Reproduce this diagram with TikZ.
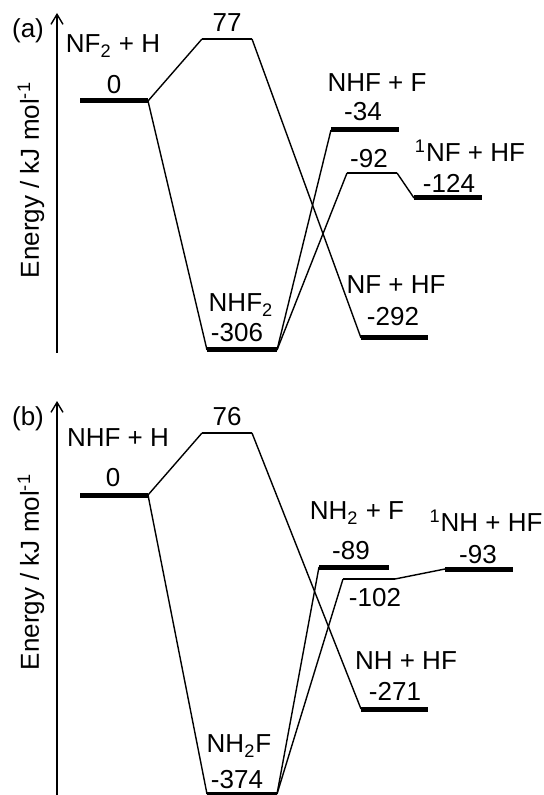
\documentclass[tikz,border=0pt]{standalone}
\usepackage{fontspec}
\setmainfont{Liberation Sans}
\usetikzlibrary{arrows.meta}

\begin{document}
\begin{tikzpicture}[x=0.5pt, y=-0.5pt,
  elevel/.style={line width=2.5pt},
  conn/.style={line width=0.7pt},
  lbl/.style={inner sep=0pt, font=\fontsize{13}{15}\selectfont},
  axis/.style={line width=0.7pt, -{Straight Barb[length=5pt, width=6pt]}}]
\useasboundingbox (0,0) rectangle (543,795);

% (a) NF2 + H
\node[lbl] (atag) at (28,31) {(a)};
\coordinate (abot) at (57,353);
\coordinate (atop) at (57,13);
\draw[axis] (abot) -- (atop);
\node[lbl, rotate=90] (aylab) at (31,180) {Energy / kJ mol\textsuperscript{-1}};

% levels
\coordinate (a0l) at (80,101);   \coordinate (a0r) at (148,101);
\coordinate (atsl) at (202,39);  \coordinate (atsr) at (252,39);
\coordinate (aintl) at (207,350); \coordinate (aintr) at (277,350);
\coordinate (afl) at (331,130);  \coordinate (afr) at (399,130);
\coordinate (abl) at (347,173);  \coordinate (abr) at (397,173);
\coordinate (asl) at (414,198);  \coordinate (asr) at (482,198);
\coordinate (atl) at (361,338);  \coordinate (atr) at (428,338);
\draw[elevel] (a0l) -- (a0r);
\draw[conn] (atsl) -- (atsr);
\draw[elevel] (aintl) -- (aintr);
\draw[elevel] (afl) -- (afr);
\draw[conn] (abl) -- (abr);
\draw[elevel] (asl) -- (asr);
\draw[elevel] (atl) -- (atr);

% connections
\draw[conn] (a0r) -- (atsl);
\draw[conn] (atsr) -- (atl);
\draw[conn] (a0r) -- (aintl);
\draw[conn] (aintr) -- (afl);
\draw[conn] (aintr) -- (abl);
\draw[conn] (abr) -- (asl);

% labels
\node[lbl] (areac) at (113,46) {NF\textsubscript{2} + H};
\node[lbl] (a0v) at (114,85) {0};
\node[lbl] (atsv) at (227,23) {77};
\node[lbl] (aint) at (241,305) {NHF\textsubscript{2}};
\node[lbl] (aintv) at (237,333) {-306};
\node[lbl] (af) at (377,83) {NHF + F};
\node[lbl] (afv) at (363,112) {-34};
\node[lbl] (abv) at (369,159) {-92};
\node[lbl] (as) at (470,151) {\textsuperscript{1}NF + HF};
\node[lbl] (asv) at (449,183) {-124};
\node[lbl] (at) at (396,285) {NF + HF};
\node[lbl] (atv) at (393,317) {-292};

% (b) NHF + H
\node[lbl] (btag) at (28,419) {(b)};
\coordinate (bbot) at (57,797);
\coordinate (btop) at (57,401);
\draw[axis] (bbot) -- (btop);
\node[lbl, rotate=90] (bylab) at (31,572) {Energy / kJ mol\textsuperscript{-1}};

% levels
\coordinate (b0l) at (80,495);   \coordinate (b0r) at (148,495);
\coordinate (btsl) at (202,433);  \coordinate (btsr) at (252,433);
\coordinate (bintl) at (207,794); \coordinate (bintr) at (277,794);
\coordinate (bfl) at (319,567);  \coordinate (bfr) at (389,567);
\coordinate (bbl) at (343,579);  \coordinate (bbr) at (395,579);
\coordinate (bsl) at (445,569);  \coordinate (bsr) at (513,569);
\coordinate (btl) at (361,709);  \coordinate (btr) at (428,709);
\draw[elevel] (b0l) -- (b0r);
\draw[conn] (btsl) -- (btsr);
\draw[elevel] (bintl) -- (bintr);
\draw[elevel] (bfl) -- (bfr);
\draw[conn] (bbl) -- (bbr);
\draw[elevel] (bsl) -- (bsr);
\draw[elevel] (btl) -- (btr);

% connections
\draw[conn] (b0r) -- (btsl);
\draw[conn] (btsr) -- (btl);
\draw[conn] (b0r) -- (bintl);
\draw[conn] (bintr) -- (bfl);
\draw[conn] (bintr) -- (bbl);
\draw[conn] (bbr) -- (bsl);

% labels
\node[lbl] (breac) at (118,438) {NHF + H};
\node[lbl] (b0v) at (113,478) {0};
\node[lbl] (btsv) at (227,417) {76};
\node[lbl] (bint) at (239,746) {NH\textsubscript{2}F};
\node[lbl] (bintv) at (237,780) {-374};
\node[lbl] (bf) at (357,513) {NH\textsubscript{2} + F};
\node[lbl] (bfv) at (351,551) {-89};
\node[lbl] (bbv) at (375,598) {-102};
\node[lbl] (bs) at (486,521) {\textsuperscript{1}NH + HF};
\node[lbl] (bsv) at (478,555) {-93};
\node[lbl] (bt) at (406,661) {NH + HF};
\node[lbl] (btv) at (395,691) {-271};
\end{tikzpicture}
\end{document}
